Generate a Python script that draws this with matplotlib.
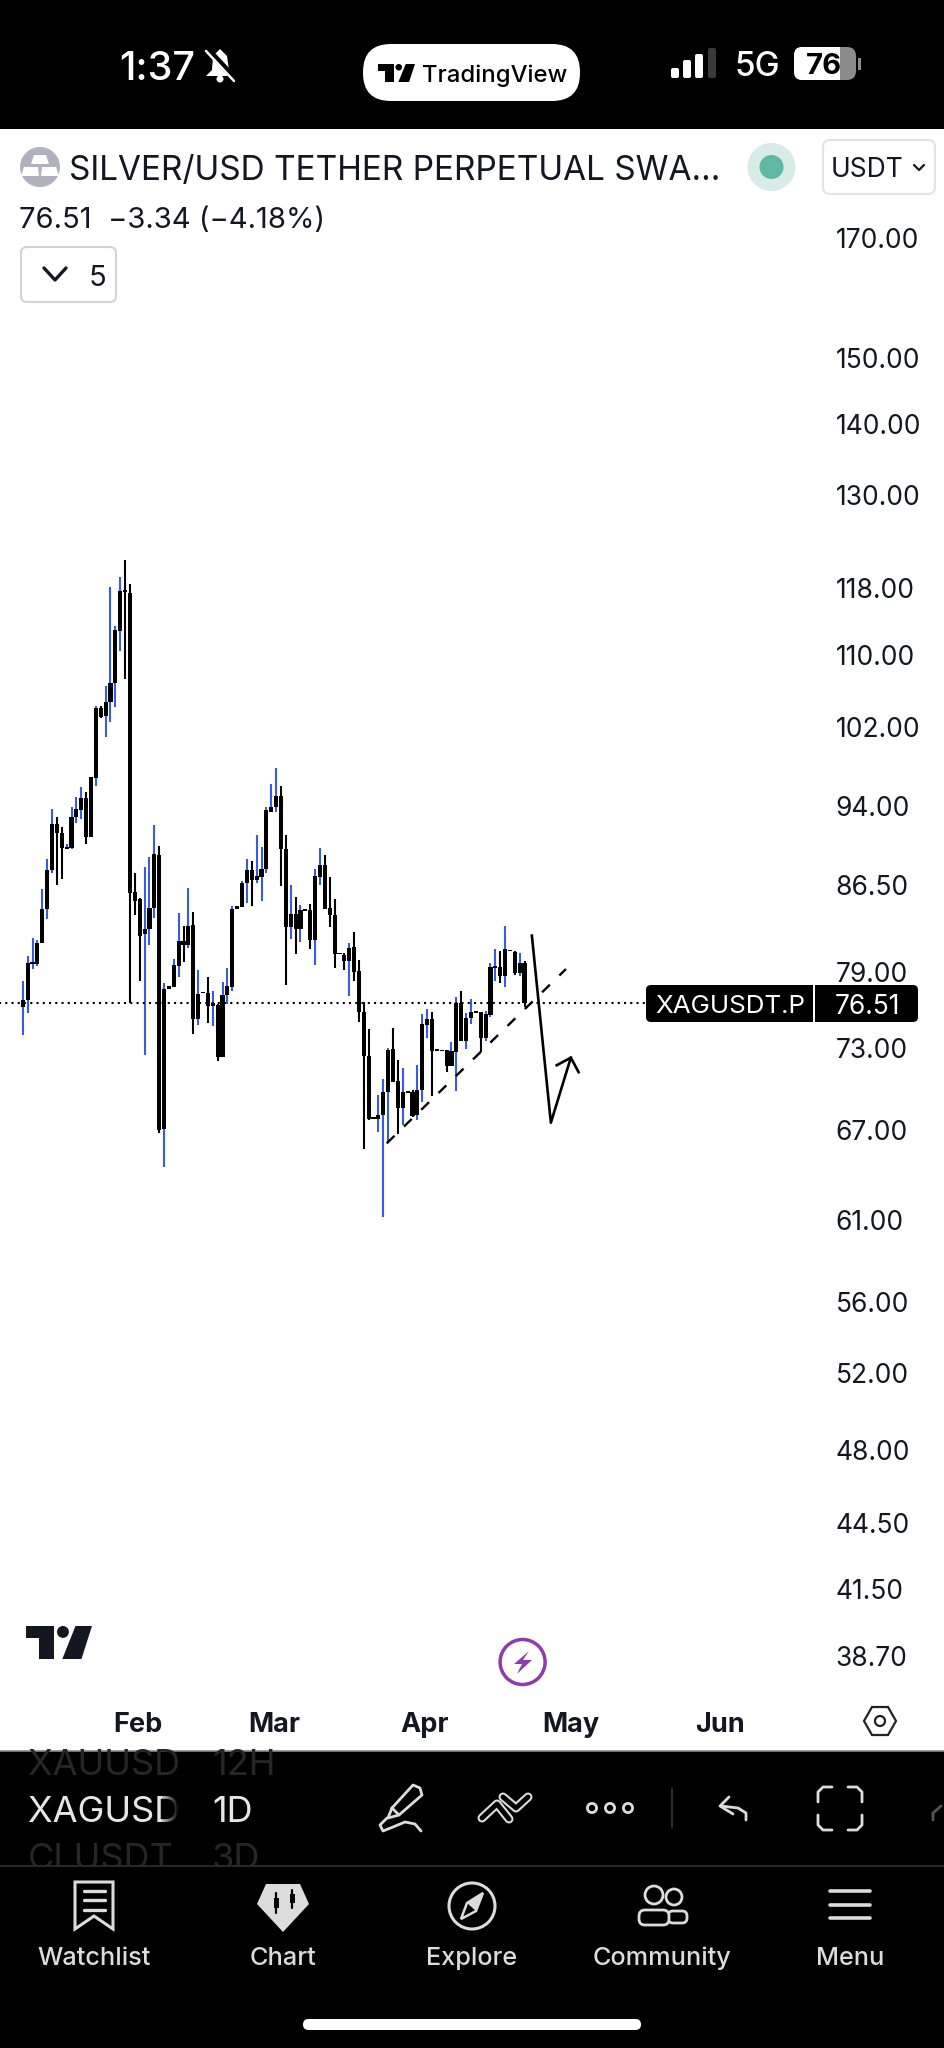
import matplotlib
matplotlib.use('Agg')
import matplotlib.pyplot as plt
from matplotlib.patches import Circle, Ellipse, FancyBboxPatch, Polygon, Rectangle
import numpy as np

plt.rcParams['font.family'] = ['Inter', 'DejaVu Sans']

# daily candles
opens = [76.17, 76.75, 79.69, 79.66, 81.43, 84.37, 87.90, 92.22, 91.33, 89.81, 89.94, 92.93, 93.58, 94.76,
         90.95, 96.72, 104.12, 103.22, 104.74, 106.80, 112.83, 117.72, 117.39, 85.93, 85.25, 82.22, 82.62, 84.45,
         89.29, 67.09, 77.61, 77.83, 79.52, 81.65, 81.28, 83.00, 75.22, 77.42, 77.34, 76.30, 76.35, 72.35,
         77.15, 77.83, 84.42, 84.54, 86.69, 87.90, 86.99, 87.29, 87.99, 93.41,
         93.90, 94.95, 89.88, 82.85, 83.96, 82.62, 84.42, 84.31, 81.71, 87.29, 88.33, 84.51, 83.87, 80.64,
         80.47, 79.97, 81.09, 79.14, 75.80, 72.42, 67.91, 67.82, 68.07, 69.70, 72.90, 70.56, 68.60, 69.78,
         69.70, 68.05, 69.87, 74.80, 75.25, 72.90, 72.88, 72.83, 71.65, 72.72, 76.49, 73.56, 75.35, 75.88,
         75.80, 73.77, 75.59, 79.36, 79.47, 78.70, 80.89, 80.69, 78.97, 79.80]
highs = [78.29, 80.36, 81.91, 81.71, 86.14, 88.94, 93.64, 92.93, 91.96, 90.32, 93.84, 94.82, 95.82, 95.35,
         96.82, 104.34, 104.34, 106.54, 118.13, 113.42, 119.37, 121.46, 118.41, 87.59, 85.34, 88.14, 89.07, 92.12,
         90.16, 78.10, 77.88, 80.11, 84.01, 82.91, 86.29, 84.10, 79.19, 77.42, 78.64, 77.48, 76.43, 78.23,
         79.38, 84.66, 84.66, 86.93, 88.91, 88.73, 91.17, 90.07, 93.90, 96.15,
         97.80, 95.95, 91.17, 86.53, 85.43, 84.75, 84.42, 84.81, 87.99, 89.91, 89.29, 87.26, 85.25, 80.64,
         80.58, 81.48, 82.37, 80.02, 76.57, 74.44, 67.91, 69.51, 70.66, 73.03, 74.52, 72.10, 71.47, 69.78,
         69.87, 71.70, 75.61, 76.01, 75.77, 72.90, 72.88, 72.85, 73.49, 76.97, 77.50, 75.69, 76.83, 75.88,
         75.80, 75.90, 79.74, 80.92, 80.81, 82.91, 80.89, 80.75, 80.58, 79.97]
lows = [74.00, 75.74, 79.25, 79.52, 81.43, 83.52, 87.59, 86.50, 87.05, 89.81, 89.81, 92.28, 92.67, 90.28,
        90.95, 95.95, 103.04, 101.02, 102.57, 104.23, 110.50, 107.24, 76.54, 83.90, 78.32, 72.47, 81.26, 83.58,
        66.83, 64.46, 77.61, 77.83, 78.59, 79.88, 81.00, 74.08, 74.78, 77.29, 74.91, 74.70, 72.02, 72.35,
        76.43, 77.50, 84.42, 84.54, 84.95, 84.66, 86.69, 85.10, 87.66, 93.41,
        93.35, 86.44, 77.96, 81.79, 80.50, 81.57, 84.25, 80.97, 79.58, 86.56, 84.37, 82.85, 79.36, 80.50,
        79.19, 77.10, 78.26, 74.98, 65.68, 67.72, 67.77, 66.88, 61.18, 66.09, 70.43, 66.72, 67.37, 69.68,
        67.96, 67.72, 69.03, 73.79, 69.46, 72.80, 72.78, 71.20, 71.65, 69.83, 73.51, 72.90, 74.85, 75.74,
        72.72, 73.56, 75.43, 78.26, 78.15, 77.77, 80.75, 78.81, 78.70, 76.17]
closes = [76.75, 79.74, 79.88, 81.48, 84.37, 87.90, 92.22, 91.33, 89.94, 90.07, 92.93, 93.64, 94.76, 90.95,
          96.82, 104.12, 103.15, 104.70, 106.87, 112.91, 117.64, 117.43, 85.85, 85.13, 82.08, 82.65, 84.45, 89.35,
          67.02, 77.64, 77.88, 79.58, 81.65, 81.26, 82.91, 75.22, 77.21, 77.29, 76.27, 76.49, 72.35, 77.15,
          77.88, 84.39, 84.66, 86.69, 87.90, 86.99, 87.35, 87.99, 93.58, 93.90,
          94.95, 89.88, 82.85, 83.96, 82.62, 84.31, 84.25, 81.71, 87.35, 88.33, 84.42, 83.87, 80.52, 80.50,
          79.97, 81.03, 79.03, 75.80, 72.42, 67.77, 67.77, 68.07, 69.70, 72.85, 70.48, 68.60, 69.70, 69.68,
          68.00, 69.87, 74.85, 75.25, 72.80, 72.80, 72.78, 71.65, 72.75, 76.49, 73.56, 75.35, 75.80, 75.74,
          73.74, 75.64, 79.41, 79.52, 78.70, 80.92, 80.75, 78.92, 79.80, 76.51]

price_ticks = [170, 150, 140, 130, 118, 110, 102, 94, 86.5, 79, 73, 67, 61, 56, 52, 48, 44.5, 41.5, 38.7]
month_pos = [23.6, 51.6, 82.4, 112.4, 143.2]
month_labels = ['Feb', 'Mar', 'Apr', 'May', 'Jun']
last_price = 76.51

# user drawings on the chart
trend_x = [74.7, 111.5]
trend_y = [66.09, 79.27]
arrow_x = [104.5, 108.4, 112.5]
arrow_y = [82.08, 67.53, 72.27]
head_x = [109.6, 112.5, 114.1]
head_y = [71.70, 72.27, 71.18]

W, H = 945, 2048
BLUE = '#3a5bdc'
LIGHT = '#dcdcdc'

fig = plt.figure(figsize=(W / 100, H / 100), dpi=100, facecolor='white')

# chart pane, log price scale
ax = fig.add_axes([0, 1 - 1700 / H, 830 / W, (1700 - 130) / H])
x = np.arange(len(opens))
o = np.array(opens)
c = np.array(closes)
up = c > o
colors = [BLUE if u else 'black' for u in up]
body_bot = np.minimum(o, c)
body_top = np.maximum(o, c)
ax.vlines(x, lows, highs, colors=colors, linewidth=1.5, zorder=2)
ax.bar(x, body_top - body_bot, bottom=body_bot, width=0.85, color='black', linewidth=0, zorder=3)
ax.hlines(last_price, -5, 128, colors='black', linestyles=(0, (1, 2)), linewidth=1.5, zorder=4)
ax.plot(trend_x, trend_y, color='black', linewidth=1.7, linestyle=(0, (4.6, 5.6)), zorder=5)
ax.plot(arrow_x, arrow_y, color='black', linewidth=1.9, zorder=5)
ax.plot(head_x, head_y, color='black', linewidth=1.9, zorder=5)
ax.set_yscale('log')
ax.set_xlim(-4.68, 165.7)
ax.set_ylim(36.98, 190.2)
ax.yaxis.tick_right()
ax.set_yticks(price_ticks)
ax.set_yticklabels([f'{v:.2f}' for v in price_ticks])
ax.minorticks_off()
ax.tick_params(axis='y', length=0, pad=4, labelsize=19, labelcolor='#131722')
ax.set_xticks(month_pos)
ax.set_xticklabels(month_labels, fontweight='bold')
ax.tick_params(axis='x', length=0, pad=9, labelsize=19.5, labelcolor='#131722')
for s in ax.spines.values():
    s.set_visible(False)

# everything around the chart, in pixel coordinates
ui = fig.add_axes([0, 0, 1, 1], facecolor='none')
ui.set_xlim(0, W)
ui.set_ylim(H, 0)
ui.axis('off')


def rect(x0, y0, x1, y1, color, r=0, ec='none', lw=0, z=1):
    if r:
        p = FancyBboxPatch((x0 + r, y0 + r), x1 - x0 - 2 * r, y1 - y0 - 2 * r,
                           boxstyle=f'round,pad={r},rounding_size={r}', fc=color, ec=ec, lw=lw, zorder=z)
    else:
        p = Rectangle((x0, y0), x1 - x0, y1 - y0, fc=color, ec=ec, lw=lw, zorder=z)
    ui.add_patch(p)
    return p


def txt(x0, y0, s, size, color='#131722', ha='left', weight='normal', z=5):
    return ui.text(x0, y0, s, fontsize=size, color=color, ha=ha, va='center_baseline', fontweight=weight, zorder=z)


def line(pts, color=LIGHT, lw=2, z=5):
    xs, ys = zip(*pts)
    ui.plot(xs, ys, color=color, lw=lw, solid_capstyle='round', solid_joinstyle='round', zorder=z)


def tv_logo(x0, y0, w, h, color):
    ui.add_patch(Polygon([(x0, y0), (x0 + .43 * w, y0), (x0 + .43 * w, y0 + h), (x0 + .2 * w, y0 + h),
                          (x0 + .2 * w, y0 + .37 * h), (x0, y0 + .37 * h)], fc=color, ec='none', zorder=6))
    ui.add_patch(Ellipse((x0 + .56 * w, y0 + .18 * h), .18 * w, .36 * h, fc=color, ec='none', zorder=6))
    ui.add_patch(Polygon([(x0 + .75 * w, y0), (x0 + w, y0), (x0 + .84 * w, y0 + h), (x0 + .55 * w, y0 + h)],
                         fc=color, ec='none', zorder=6))


# status bar
rect(0, 0, W, 129, 'black')
txt(119, 65, '1:37', 28.5, 'white', weight='medium')
ui.add_patch(Polygon([(220, 49), (227, 56), (229, 70), (235, 76), (206, 76), (212, 70), (213, 56)], fc='white', ec='none', zorder=5))
ui.add_patch(Circle((220, 79), 3.5, fc='white', ec='none', zorder=5))
line([(208, 50), (236, 80)], 'black', 4.5, z=6)
line([(206, 51), (234, 81)], 'white', 1.8, z=7)
rect(363, 44, 580, 101, 'white', r=28)
tv_logo(378, 64, 37, 18, 'black')
txt(422, 73, 'TradingView', 17.2, 'black', weight='medium')
for bx, by, col in [(671, 68, 'white'), (683, 60, 'white'), (695, 54, 'white'), (708, 48, '#3a3a3a')]:
    rect(bx, by, bx + 8, 78, col, r=2)
txt(735, 64, '5G', 24, 'white', weight='medium')
rect(794, 47, 856, 80, '#8c8c8c', r=9)
rect(794, 47, 840, 80, 'white', r=8)
rect(825, 47, 840, 80, 'white')
rect(858, 58, 861, 70, '#8c8c8c')
txt(824, 63, '76', 21, 'black', ha='center', weight='bold', z=6)

# header
ui.add_patch(Circle((40, 167), 20, fc='#b0b0be', ec='none', zorder=5))
ui.add_patch(Polygon([(34, 155), (46, 155), (49, 164), (31, 164)], fc='white', ec='none', zorder=6))
ui.add_patch(Polygon([(24, 167), (38, 167), (39, 176), (21, 176)], fc='white', ec='none', zorder=6))
ui.add_patch(Polygon([(42, 167), (56, 167), (59, 176), (41, 176)], fc='white', ec='none', zorder=6))
txt(69, 167, 'SILVER/USD TETHER PERPETUAL SWA...', 24)
ui.add_patch(Circle((771.5, 167), 24, fc='#d8ebe6', ec='none', zorder=5))
ui.add_patch(Circle((771.5, 167), 12, fc='#5fb8a2', ec='none', zorder=6))
rect(823, 140, 935, 194, 'white', r=7, ec='#e0e3eb', lw=1.5)
txt(831, 167, 'USDT', 19)
line([(914, 165), (919, 170), (924, 165)], '#131722', 1.6)
txt(19, 218, '76.51  \u22123.34 (\u22124.18%)', 21)
rect(21, 247, 116, 302, 'white', r=6, ec='#d1d4dc', lw=1.5)
line([(44, 268), (55, 280), (66, 268)], '#131722', 2.4)
txt(89, 275, '5', 21)

# last price label
rect(646, 985, 918, 1022, 'black', r=5)
rect(813, 985, 815, 1022, 'white', z=2)
txt(730, 1004, 'XAGUSDT.P', 18.7, 'white', ha='center')
txt(868, 1004, f'{last_price:.2f}', 19, 'white', ha='center')

# logo, lightning, settings hexagon
tv_logo(26, 1626, 66, 33, '#131722')
ui.add_patch(Circle((522.6, 1662), 22.5, fc='white', ec='#8e3bab', lw=2.5, zorder=5))
ui.add_patch(Polygon([(529, 1651), (514, 1664), (522, 1664), (517, 1674), (532, 1660), (523, 1660)], fc='#8e3bab', ec='none', zorder=6))
ui.add_patch(Polygon([(864, 1721), (872, 1707), (888, 1707), (896, 1721), (888, 1735), (872, 1735)], fc='none', ec='#222222', lw=1.6, zorder=5))
ui.add_patch(Circle((880, 1721), 5, fc='none', ec='#222222', lw=1.6, zorder=5))

# dark toolbar
rect(0, 1751, W, H, 'black')
line([(0, 1751), (W, 1751)], '#8a8a8a', 1.2, z=2)
band = Rectangle((0, 1752), 176, 114, transform=ui.transData)
band2 = Rectangle((205, 1752), 100, 114, transform=ui.transData)
for ty, sym, tf, col in [(1762, 'XAUUSD', '12H', '#262626'), (1809, 'XAGUSD', '1D', '#e6e6e6'), (1856, 'CLUSDT', '3D', '#262626')]:
    t = txt(28, ty, sym, 26, col)
    t.set_clip_path(band)
    t2 = txt(212, ty, tf, 26, col)
    t2.set_clip_path(band2)
for i in range(8):
    rect(162 + i * 2, 1790, 164 + i * 2, 1830, 'black', z=6).set_alpha(0.2 + i * 0.1)
line([(0, 1866), (W, 1866)], '#2a2a2a', 1.4, z=6)
rect(0, 1867, W, H, 'black', z=5.5)

# pen
pen = [(392, 1808), (413, 1785), (420, 1788), (422, 1795), (399, 1815), (388, 1818), (392, 1808)]
line(pen)
line([(392, 1808), (399, 1815)])
line([(387, 1818), (380, 1825), (383, 1831), (393, 1827), (405, 1822), (415, 1824), (421, 1831)])
# wave
for pts in [[(482, 1818), (497, 1804), (509, 1819)], [(503, 1797), (516, 1808), (528, 1797)]]:
    line(pts, LIGHT, 6.5)
    line(pts, 'black', 3.5, z=6)
# three dots
for dx in (592, 610, 628):
    ui.add_patch(Circle((dx, 1808), 4.6, fc='none', ec=LIGHT, lw=2, zorder=5))
line([(672, 1788), (672, 1828)], '#333333', 1.2)
# undo
line([(729, 1797), (720, 1806), (733, 1814)])
line([(721, 1806), (738, 1808), (746, 1813), (746, 1820)])
# fullscreen corners
line([(818, 1802), (818, 1792), (823, 1787), (832, 1787)])
line([(848, 1787), (857, 1787), (862, 1792), (862, 1802)])
line([(818, 1815), (818, 1825), (823, 1830), (832, 1830)])
line([(848, 1830), (857, 1830), (862, 1825), (862, 1815)])
line([(933, 1820), (933, 1813), (941, 1806)], '#555555', 2)

# bottom nav
for nx, name in [(94, 'Watchlist'), (283, 'Chart'), (472, 'Explore'), (662, 'Community'), (850, 'Menu')]:
    txt(nx, 1956, name, 18.2, LIGHT, ha='center', weight='medium', z=7)
ui.add_patch(Polygon([(75, 1882), (113, 1882), (113, 1929), (94, 1916), (75, 1929)], fc='none', ec=LIGHT, lw=2.2, zorder=7))
for ly in (1891, 1900, 1910):
    line([(84, ly), (105, ly)], LIGHT, 2.4, z=7)
ui.add_patch(Polygon([(266, 1884), (300, 1884), (309, 1904), (283, 1932), (257, 1904)], fc=LIGHT, ec='none', zorder=7))
line([(276, 1893), (276, 1913)], 'black', 1.6, z=8)
line([(292, 1890), (292, 1908)], 'black', 1.6, z=8)
rect(273.5, 1898, 278.5, 1908, 'black', z=8)
rect(289.5, 1894, 294.5, 1903, 'black', z=8)
ui.add_patch(Circle((472, 1906), 23, fc='none', ec=LIGHT, lw=2.2, zorder=7))
ui.add_patch(Polygon([(483, 1893), (476, 1911), (461, 1919), (467, 1903)], fc='none', ec=LIGHT, lw=1.8, zorder=7))
ui.add_patch(Polygon([(483, 1893), (476, 1911), (467, 1903)], fc=LIGHT, ec='none', zorder=7))
ui.add_patch(Circle((654, 1895), 9, fc='none', ec=LIGHT, lw=2, zorder=7))
ui.add_patch(Circle((674, 1897), 8, fc='none', ec=LIGHT, lw=2, zorder=7))
rect(668, 1911, 687, 1923, 'black', r=5, ec=LIGHT, lw=2, z=7)
rect(639, 1910, 669, 1925, 'black', r=6, ec=LIGHT, lw=2, z=7.5)
for ly in (1891, 1905, 1918):
    line([(830, ly), (870, ly)], LIGHT, 2.6, z=7)
rect(303, 2019, 641, 2030, 'white', r=5.5, z=7)

fig.savefig('out.png', dpi=100)
